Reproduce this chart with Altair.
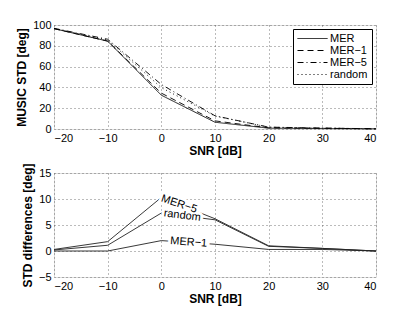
import altair as alt
import pandas as pd

snr = [-20, -10, 0, 10, 20, 30, 40]
series_names = ["MER", "MER−1", "MER−5", "random"]
mer = [96.5, 84.5, 32.5, 6.5, 0.8, 0.4, 0.2]
mer1 = [96.5, 84.5, 34.5, 7.8, 1.1, 0.7, 0.2]
mer5 = [96.8, 86.3, 42.8, 12.7, 1.8, 0.9, 0.2]
rnd = [96.7, 85.6, 39.8, 12.5, 1.7, 0.9, 0.2]

diff_names = ["MER−5", "random", "MER−1"]
d_mer5 = [0.3, 1.8, 10.3, 6.2, 1.0, 0.5, 0.0]
d_rnd = [0.2, 1.1, 7.3, 6.0, 0.9, 0.5, 0.0]
d_mer1 = [0.0, 0.0, 2.0, 1.3, 0.3, 0.3, 0.0]

lab_text = ["MER−5", "random", "MER−1"]
lab_x = [3.3, 3.9, 5.1]
lab_y = [9.0, 6.8, 1.65]
lab_angle = [18, 7, 4]

FONT = "Liberation Sans"

top_rows = []
for name, vals in zip(series_names, [mer, mer1, mer5, rnd]):
    for x, v in zip(snr, vals):
        top_rows.append({"snr": x, "std": v, "series": name})
top_df = pd.DataFrame(top_rows)

bot_rows = []
for name, vals in zip(diff_names, [d_mer5, d_rnd, d_mer1]):
    for x, v in zip(snr, vals):
        bot_rows.append({"snr": x, "diff": v, "series": name})
bot_df = pd.DataFrame(bot_rows)

lab_df = pd.DataFrame({"snr": lab_x, "diff": lab_y, "t": lab_text, "a": lab_angle})

axis_common = dict(
    grid=True, gridDash=[1, 3], gridColor="#555", gridOpacity=0.8,
    domain=False, ticks=False, labelPadding=3,
    labelFont=FONT, labelFontSize=11, labelColor="black",
    titleFont=FONT, titleFontSize=12, titleFontWeight="bold", titleColor="black",
)

xscale = alt.Scale(domain=[-20, 40], nice=False, zero=False)
xaxis = alt.X("snr:Q", title="SNR [dB]", scale=xscale,
              axis=alt.Axis(values=snr, titlePadding=2, **axis_common))

W, H = 322, 104

top = alt.Chart(top_df).mark_line(color="black", strokeWidth=0.9).encode(
    x=xaxis,
    y=alt.Y("std:Q", title="MUSIC STD [deg]",
            scale=alt.Scale(domain=[0, 100], nice=False),
            axis=alt.Axis(values=[0, 20, 40, 60, 80, 100], titlePadding=4, **axis_common)),
    strokeDash=alt.StrokeDash(
        "series:N",
        scale=alt.Scale(domain=series_names,
                        range=[[1, 0], [6, 4], [6, 3, 1, 3], [1, 3]]),
        legend=alt.Legend(
            title=None, orient="top-right", offset=4,
            fillColor="white", strokeColor="black", padding=4,
            symbolType="M-1,0H5", symbolSize=100, symbolStrokeColor="black",
            symbolStrokeWidth=1, labelFont=FONT, labelFontSize=11,
            labelColor="black", rowPadding=0, labelOffset=22,
        ),
    ),
    detail="series:N",
).properties(width=W, height=H)

yscale_b = alt.Scale(domain=[-5, 15], nice=False)
yaxis_b = alt.Y("diff:Q", title="STD differences [deg]", scale=yscale_b,
                axis=alt.Axis(values=[-5, 0, 5, 10, 15], titlePadding=4, **axis_common))

bot_lines = alt.Chart(bot_df).mark_line(color="#222", strokeWidth=0.9).encode(
    x=xaxis, y=yaxis_b, detail="series:N",
)

halo = alt.Chart(lab_df).mark_text(
    font=FONT, fontSize=11, color="white", stroke="white", strokeWidth=6
).encode(x=xaxis, y=yaxis_b, text="t:N", angle=alt.Angle("a:Q", scale=None))

labels = alt.Chart(lab_df).mark_text(
    font=FONT, fontSize=11, color="black"
).encode(x=xaxis, y=yaxis_b, text="t:N", angle=alt.Angle("a:Q", scale=None))

bottom = alt.layer(bot_lines, halo, labels).properties(width=W, height=H)

chart = alt.vconcat(top, bottom, spacing=5).properties(
    padding={"left": 7, "top": 10, "right": 5, "bottom": 5}
).configure_view(stroke="black", strokeWidth=1).configure(background="white")

chart.save("out.html", embed_options={"renderer": "svg", "actions": False})
